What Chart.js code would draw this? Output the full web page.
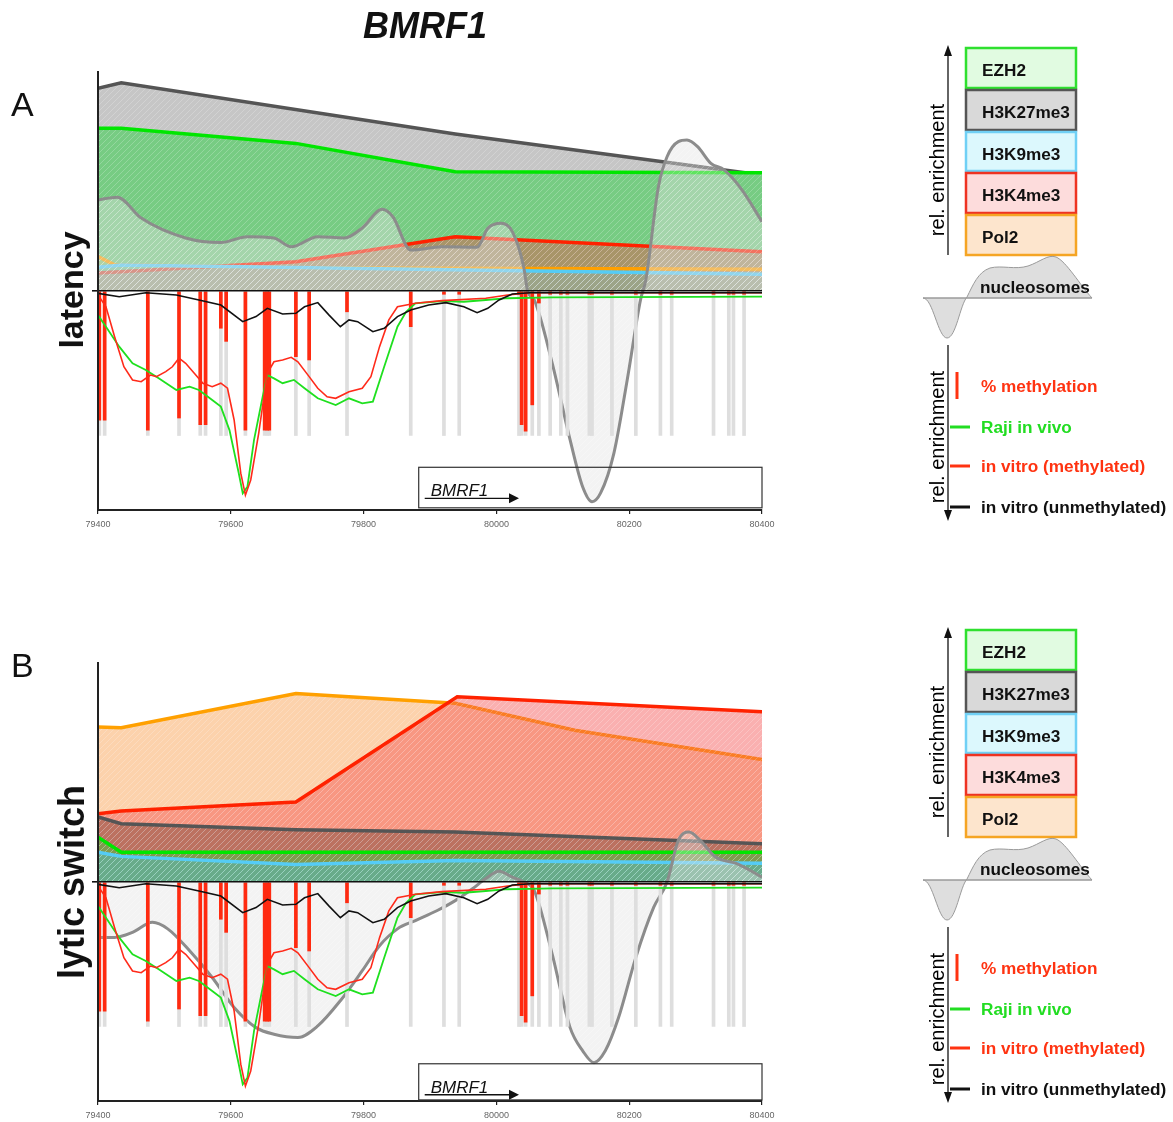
<!DOCTYPE html>
<html>
<head>
<meta charset="utf-8">
<title>BMRF1</title>
<script src="https://cdn.jsdelivr.net/npm/chart.js@4.4.1/dist/chart.umd.min.js"></script>
<style>
  html, body { margin: 0; padding: 0; background: #fff; }
  #page { position: relative; width: 1173px; height: 1122px; overflow: hidden; font-family: 'Liberation Sans', Arial, sans-serif; }
  .panel { position: absolute; left: 0; }
  #overlay { position: absolute; left: 0; top: 0; }
</style>
</head>
<body>
<div id="page">
  <canvas id="chartA" class="panel" width="800" height="470" style="top:60px"></canvas>
  <canvas id="chartB" class="panel" width="800" height="470" style="top:651px"></canvas>
  <svg id="overlay" width="1173" height="1122"></svg>
</div>
<script>
// genomic window (bp)
const xMin = 79400;
const xMax = 80400;
const xTicks = [79400, 79600, 79800, 80000, 80200, 80400];

// CpG sites and % methylation (drawn downwards from the baseline)
const cpgSites = [79402, 79410, 79475, 79522, 79554, 79562, 79585, 79593, 79622, 79651, 79655, 79658,
  79698, 79718, 79775, 79871, 79921, 79944, 80034, 80038, 80044, 80054, 80064, 80081, 80097, 80107,
  80140, 80144, 80174, 80210, 80247, 80264, 80327, 80350, 80357, 80373];
const methylation = [-59, -59, -63.5, -58, -61, -61, -17, -23, -63.5, -63.5, -63.5, -63.5,
  -30, -31.5, -9.5, -16.3, -1.5, -1.5, -1.5, -61, -64, -52, -5.5, -1.5, -1.5, -1.5,
  -1.5, -1.5, -1.5, -1.5, -1.5, -1.5, -1.5, -1.5, -1.5, -1.5];
const cpgDepth = -66;

// enrichment profiles below the baseline, [bp, value]
const inVitroUnmethylated = [[79400,-1.1],[79432,-2.6],[79472,-0.8],[79518,-1.8],[79552,-4.1],[79585,-6.4],
  [79618,-14.0],[79638,-11.7],[79655,-7.9],[79678,-10.5],[79698,-10.2],[79711,-7.2],[79731,-5.3],
  [79748,-11.0],[79765,-16.3],[79778,-13.2],[79791,-14.0],[79814,-18.6],[79831,-17.0],[79851,-11.7],
  [79871,-8.7],[79898,-6.4],[79924,-5.3],[79951,-7.2],[79971,-9.9],[79987,-7.9],[80004,-4.1],
  [80024,-1.4],[80051,-0.8],[80400,-0.8]];
const inVitroMethylated = [[79400,-1.8],[79412,-7.2],[79425,-20.9],[79439,-34.6],[79452,-40.6],[79465,-41.4],
  [79479,-38.4],[79488,-39.1],[79502,-36.8],[79512,-34.6],[79522,-30.7],[79532,-33.0],[79545,-37.6],
  [79558,-42.1],[79572,-43.7],[79585,-42.1],[79595,-44.4],[79605,-58.9],[79615,-83.2],[79622,-93.2],
  [79630,-86.3],[79642,-65.0],[79655,-37.6],[79665,-32.3],[79678,-31.5],[79691,-30.3],[79701,-32.3],
  [79718,-39.1],[79731,-44.4],[79745,-48.3],[79758,-49.0],[79778,-46.0],[79798,-44.4],[79811,-39.1],
  [79824,-25.4],[79838,-13.2],[79851,-7.2],[79878,-5.6],[79918,-4.4],[79984,-3.3],[80017,-1.8],
  [80051,-0.8],[80400,-0.8]];
const rajiInVivo = [[79400,-11.0],[79412,-16.3],[79432,-25.4],[79452,-33.0],[79472,-36.1],[79492,-39.9],
  [79518,-45.2],[79538,-43.7],[79552,-45.2],[79572,-49.8],[79585,-52.8],[79598,-63.5],[79612,-83.2],
  [79618,-92.4],[79625,-89.4],[79635,-68.0],[79648,-48.3],[79655,-38.4],[79665,-39.9],[79678,-42.1],
  [79695,-40.6],[79711,-44.4],[79731,-49.0],[79758,-52.1],[79778,-49.0],[79798,-51.3],[79814,-50.5],
  [79831,-34.6],[79851,-16.3],[79864,-9.5],[79878,-5.6],[79918,-4.6],[79951,-4.9],[79984,-4.1],
  [80017,-3.3],[80084,-2.9],[80400,-2.6]];

// nucleosome occupancy
const nucleosomesA = [[79400,41.6],[79429,42.8],[79465,33.3],[79532,24.2],[79585,22.1],[79625,24.8],
  [79665,24.2],[79691,20.2],[79731,24.8],[79771,24.2],[79798,28.8],[79828,37.3],[79844,33.9],
  [79871,18.7],[79918,20.2],[79971,20.0],[79987,28.6],[80007,30.9],[80024,27.1],[80041,11.1],
  [80047,0],[80057,-4.1],[80084,-32.9],[80111,-68.0],[80130,-89.5],[80144,-96.2],[80157,-92.2],
  [80177,-74.0],[80197,-40.6],[80217,-4.1],[80225,5.0],[80244,47.6],[80257,61.3],[80274,68.2],
  [80287,68.9],[80303,65.9],[80323,58.3],[80343,55.3],[80370,46.1],[80400,31.6]];
const nucleosomesB = [[79400,-25.3],[79425,-25.3],[79452,-23.0],[79482,-18.4],[79505,-21.4],[79538,-31.4],
  [79572,-43.6],[79605,-57.3],[79638,-66.5],[79665,-69.5],[79701,-71.0],[79731,-65.7],[79765,-54.2],
  [79798,-40.5],[79824,-29.1],[79851,-21.4],[79878,-17.6],[79911,-13.0],[79938,-8.5],[79964,-3.1],
  [79984,1.6],[80004,4.9],[80024,2.2],[80041,0],[80057,-3.9],[80084,-32.9],[80111,-66.5],
  [80130,-77.1],[80147,-82.5],[80164,-77.1],[80184,-61.9],[80210,-34.4],[80237,-11.5],[80257,0],
  [80274,19.0],[80290,22.8],[80307,19.0],[80330,11.4],[80363,8.3],[80400,2.2]];

// ChIP enrichment, latency
const h3k27me3A = [[79400,92.6],[79435,95.1],[79938,71.7],[80400,53.0]];
const ezh2A = [[79400,74.3],[79435,74.3],[79698,67.4],[79938,54.5],[80400,54.0]];
const h3k4me3A = [[79400,8.2],[79698,13.4],[79938,24.8],[80400,17.9]];
const pol2A = [[79400,15.7],[79425,12.0],[79698,10.6],[80400,9.9]];
const h3k9me3A = [[79400,10.8],[79435,11.9],[80400,7.6]];

// ChIP enrichment, lytic switch
const pol2B = [[79400,70.8],[79435,70.4],[79698,86.1],[79938,81.6],[80118,69.3],[80400,55.9]];
const h3k4me3B = [[79400,31.2],[79435,32.4],[79698,36.5],[79941,84.6],[80400,77.7]];
const h3k27me3B = [[79400,29.7],[79435,26.6],[79698,23.9],[79938,22.8],[80400,17.5]];
const ezh2B = [[79400,20.5],[79435,13.6],[80400,13.6]];
const h3k9me3B = [[79400,13.6],[79435,11.7],[79698,8.0],[79938,9.8],[80400,8.6]];

// gene annotation
const geneName = 'BMRF1';
const geneStart = 79883;
const geneEnd = 80400;
const geneArrowEnd = 80034;

Chart.defaults.font.family = "'Liberation Sans', Arial, sans-serif";

// diagonal hatching on the filled areas
function hatch(color) {
  const c = document.createElement('canvas');
  c.width = 6; c.height = 6;
  const g = c.getContext('2d');
  g.fillStyle = color;
  g.fillRect(0, 0, 6, 6);
  g.strokeStyle = 'rgba(255,255,255,0.22)';
  g.lineWidth = 1;
  g.beginPath();
  g.moveTo(0, 6); g.lineTo(6, 0);
  g.moveTo(-1, 1); g.lineTo(1, -1);
  g.moveTo(5, 7); g.lineTo(7, 5);
  g.stroke();
  return g.createPattern(c, 'repeat');
}

function lineSet(data, color, fill, width) {
  return {
    type: 'line',
    data: data.map(([x, y]) => ({ x, y })),
    borderColor: color,
    backgroundColor: fill || 'transparent',
    fill: fill ? 'origin' : false,
    borderWidth: width,
    pointRadius: 0,
    tension: 0
  };
}

// gene box with name and direction arrow
const geneTrack = {
  id: 'geneTrack',
  afterDatasetsDraw(chart, args, opts) {
    const { ctx, scales: { x, y } } = chart;
    const x0 = x.getPixelForValue(geneStart);
    const x1 = x.getPixelForValue(geneEnd);
    const y0 = y.getPixelForValue(opts.box[0]);
    const y1 = y.getPixelForValue(opts.box[1]);
    const xa = x.getPixelForValue(geneArrowEnd);
    ctx.save();
    ctx.strokeStyle = '#333';
    ctx.lineWidth = 1.2;
    ctx.strokeRect(x0, y0, x1 - x0, y1 - y0);
    ctx.fillStyle = '#111';
    ctx.font = "italic 17px 'Liberation Sans', Arial";
    ctx.textBaseline = 'alphabetic';
    ctx.fillText(geneName, x0 + 12, y0 + 29);
    const ay = y0 + 31;
    ctx.strokeStyle = '#111';
    ctx.lineWidth = 1.3;
    ctx.beginPath();
    ctx.moveTo(x0 + 6, ay);
    ctx.lineTo(xa - 8, ay);
    ctx.stroke();
    ctx.beginPath();
    ctx.moveTo(xa, ay);
    ctx.lineTo(xa - 10, ay - 5);
    ctx.lineTo(xa - 10, ay + 5);
    ctx.closePath();
    ctx.fill();
    ctx.restore();
  }
};

function buildChart(id, histones, nucleosomes, box) {
  const nuc = lineSet(nucleosomes, '#8c8c8c', hatch('rgba(226,226,226,0.42)'), 3);
  nuc.cubicInterpolationMode = 'monotone';
  const datasets = [
    lineSet(inVitroUnmethylated, '#111111', null, 1.6),
    lineSet(inVitroMethylated, '#ff2a1a', null, 1.6),
    lineSet(rajiInVivo, '#1fe01f', null, 1.8),
    {
      type: 'bar',
      data: cpgSites.map((x, i) => ({ x, y: methylation[i] })),
      backgroundColor: '#ff2a10',
      barThickness: 3,
      grouped: false
    },
    {
      type: 'bar',
      data: cpgSites.map(x => ({ x, y: cpgDepth })),
      backgroundColor: '#dedede',
      barThickness: 3,
      grouped: false
    },
    nuc,
    ...histones
  ];

  return new Chart(document.getElementById(id), {
    type: 'line',
    data: { datasets },
    options: {
      responsive: false,
      animation: false,
      events: [],
      layout: { padding: { left: 98, right: 38, top: 12, bottom: 0 } },
      plugins: {
        legend: { display: false },
        tooltip: { enabled: false },
        geneTrack: { box }
      },
      scales: {
        x: {
          type: 'linear',
          min: xMin,
          max: xMax,
          offset: false,
          afterBuildTicks: s => { s.ticks = xTicks.map(v => ({ value: v })); },
          afterFit: s => { s.height = 20; },
          grid: {
            display: true,
            offset: false,
            drawOnChartArea: false,
            drawTicks: true,
            tickLength: 4,
            color: '#222',
            lineWidth: 1.2
          },
          border: { display: true, color: '#222', width: 2 },
          ticks: {
            font: { size: 9 },
            color: '#666',
            padding: 5,
            autoSkip: false,
            maxRotation: 0,
            callback: v => String(v)
          }
        },
        y: {
          min: -100,
          max: 100,
          afterFit: s => { s.width = 0; },
          ticks: { display: false, stepSize: 100 },
          grid: {
            drawTicks: true,
            tickLength: 6,
            lineWidth: 1.6,
            z: 1,
            color: c => (c.tick && c.tick.value === 0 ? '#111' : 'rgba(0,0,0,0)')
          },
          border: { display: true, color: '#222', width: 2, z: 1 }
        }
      }
    },
    plugins: [geneTrack]
  });
}

// latency: H3K27me3 at the back, H3K9me3 in front
buildChart('chartA', [
  lineSet(h3k9me3A, '#55ccf5', hatch('rgba(90,200,240,0.27)'), 3.5),
  lineSet(pol2A, '#ffa000', hatch('rgba(255,170,60,0.15)'), 3.5),
  lineSet(h3k4me3A, '#ff2200', hatch('rgba(235,75,70,0.42)'), 3.5),
  lineSet(ezh2A, '#00e600', hatch('#77cc83'), 3.5),
  lineSet(h3k27me3A, '#555555', hatch('#c6c6c6'), 3.5)
], nucleosomesA, [-80.5, -99]);

// lytic switch: Pol2 at the back
buildChart('chartB', [
  lineSet(h3k9me3B, '#55ccf5', hatch('rgba(70,195,220,0.42)'), 3.5),
  lineSet(ezh2B, '#00e600', hatch('rgba(60,200,60,0.46)'), 3.5),
  lineSet(h3k27me3B, '#555555', hatch('rgba(105,60,50,0.42)'), 3.5),
  lineSet(h3k4me3B, '#ff2200', hatch('rgba(245,80,80,0.45)'), 3.5),
  lineSet(pol2B, '#ffa000', hatch('rgba(250,165,90,0.5)'), 3.5)
], nucleosomesB, [-83, -99.5]);

// side legend, titles and panel labels
const legendBoxes = [
  ['EZH2', '#2fe02f', '#e1fbe1', 48, 40],
  ['H3K27me3', '#555555', '#d9d9d9', 90, 40],
  ['H3K9me3', '#70d0f5', '#dcf8fd', 132, 39],
  ['H3K4me3', '#ee3322', '#fddcdc', 173, 40],
  ['Pol2', '#f5a524', '#fde5cd', 215, 40]
];
const legendLines = [
  ['% methylation', '#ff3311', 392, 'bar'],
  ['Raji in vivo', '#22dd22', 433, 'line'],
  ['in vitro (methylated)', '#ff3311', 472, 'line'],
  ['in vitro (unmethylated)', '#111111', 513, 'line']
];

function legend(dy) {
  let s = `<g transform="translate(0,${dy})">`;
  s += '<line x1="948" y1="255" x2="948" y2="54" stroke="#111" stroke-width="1.3"/>';
  s += '<polygon points="948,45 944,56 952,56" fill="#111"/>';
  s += '<text transform="translate(944,170) rotate(-90)" text-anchor="middle" font-size="20">rel. enrichment</text>';
  legendBoxes.forEach(([t, stroke, fill, y, h]) => {
    s += `<rect x="966" y="${y}" width="110" height="${h}" fill="${fill}" stroke="${stroke}" stroke-width="2.5"/>`;
    s += `<text x="982" y="${y + 28}" font-size="17.2" font-weight="bold" fill="#111">${t}</text>`;
  });
  s += '<path d="M923,298 C933,298 938,338 947,338 C956,338 960,305 967,297 C973,285 978,272 990,268 C1002,265 1015,270 1028,266 C1040,262 1048,254 1056,257 C1066,261 1080,285 1092,298 Z" fill="#dedede" stroke="#9a9a9a" stroke-width="1"/>';
  s += '<line x1="923" y1="298" x2="1092" y2="298" stroke="#9a9a9a" stroke-width="1"/>';
  s += '<text x="980" y="293" font-size="17.2" font-weight="bold" fill="#111">nucleosomes</text>';
  s += '<line x1="948" y1="345" x2="948" y2="512" stroke="#111" stroke-width="1.3"/>';
  s += '<polygon points="948,521 944,510 952,510" fill="#111"/>';
  s += '<text transform="translate(944,437) rotate(-90)" text-anchor="middle" font-size="20">rel. enrichment</text>';
  legendLines.forEach(([t, color, y, kind]) => {
    if (kind === 'bar') {
      s += `<line x1="957" y1="${y - 20}" x2="957" y2="${y + 7}" stroke="${color}" stroke-width="3"/>`;
    } else {
      s += `<line x1="950" y1="${y - 6}" x2="970" y2="${y - 6}" stroke="${color}" stroke-width="3"/>`;
    }
    s += `<text x="981" y="${y}" font-size="17.2" font-weight="bold" fill="${color}">${t}</text>`;
  });
  return s + '</g>';
}

const svg = document.getElementById('overlay');
svg.setAttribute('font-family', "'Liberation Sans', Arial, sans-serif");
svg.innerHTML =
  `<text x="425" y="38" text-anchor="middle" font-size="36" font-weight="bold" font-style="italic" fill="#111">${geneName}</text>` +
  '<text x="11" y="116" font-size="34" fill="#111">A</text>' +
  '<text x="11" y="677" font-size="34" fill="#111">B</text>' +
  '<text transform="translate(83,290) rotate(-90)" text-anchor="middle" font-size="34" font-weight="bold" fill="#111">latency</text>' +
  '<text transform="translate(84,882) rotate(-90)" text-anchor="middle" font-size="36" font-weight="bold" fill="#111">lytic switch</text>' +
  legend(0) + legend(582);
</script>
</body>
</html>
